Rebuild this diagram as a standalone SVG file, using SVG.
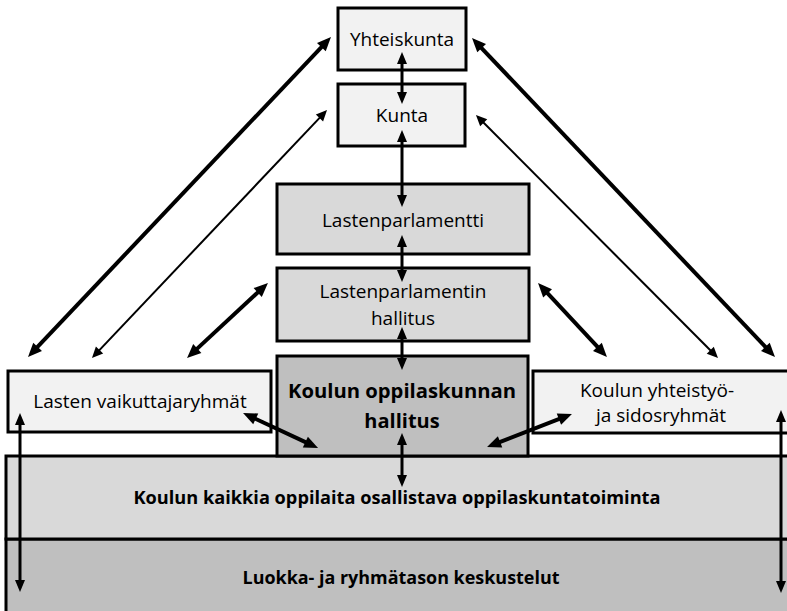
<svg xmlns="http://www.w3.org/2000/svg" width="787" height="611" viewBox="0 0 787 611">
  <style>
    .box { stroke: #000; stroke-width: 3; }
    .l1 { fill: #f2f2f2; }
    .l2 { fill: #d9d9d9; }
    .l3 { fill: #bfbfbf; }
    text { font-family: "Open Sans", "Noto Sans", sans-serif; fill: #000; text-anchor: middle; }
    .t { font-size: 19px; }
    .b { font-size: 20px; font-weight: bold; }
    .bb { font-size: 17.5px; font-weight: bold; }
    .thick { stroke: #000; stroke-width: 4; fill: none; marker-start: url(#head); marker-end: url(#head); }
    .thin { stroke: #000; stroke-width: 2; fill: none; marker-start: url(#headThin); marker-end: url(#headThin); }
    .vert { stroke: #000; stroke-width: 3; fill: none; marker-start: url(#headV); marker-end: url(#headV); }
  </style>
  <defs>
    <marker id="head" markerUnits="userSpaceOnUse" markerWidth="14" markerHeight="12" refX="6" refY="6" orient="auto-start-reverse" overflow="visible">
      <path d="M0,0 L14,6 L0,12 z" fill="#000"/>
    </marker>
    <marker id="headThin" markerUnits="userSpaceOnUse" markerWidth="11" markerHeight="10" refX="5" refY="5" orient="auto-start-reverse" overflow="visible">
      <path d="M0,0 L11,5 L0,10 z" fill="#000"/>
    </marker>
    <marker id="headV" markerUnits="userSpaceOnUse" markerWidth="12" markerHeight="10" refX="5" refY="5" orient="auto-start-reverse" overflow="visible">
      <path d="M0,0 L12,5 L0,10 z" fill="#000"/>
    </marker>
  </defs>

  <!-- base layers -->
  <g id="luokka">
    <rect class="box l3" x="6" y="539" width="790" height="80"/>
    <text class="bb" x="401" y="584" textLength="317" lengthAdjust="spacingAndGlyphs">Luokka- ja ryhmätason keskustelut</text>
  </g>
  <g id="oppilaskuntatoiminta">
    <rect class="box l2" x="6" y="456" width="790" height="83"/>
    <text class="bb" x="397" y="504" textLength="527" lengthAdjust="spacingAndGlyphs">Koulun kaikkia oppilaita osallistava oppilaskuntatoiminta</text>
  </g>

  <!-- central column -->
  <g id="yhteiskunta">
    <rect class="box l1" x="338" y="8" width="128" height="62"/>
    <text class="t" x="402" y="46">Yhteiskunta</text>
  </g>
  <g id="kunta">
    <rect class="box l1" x="338" y="84" width="127" height="62"/>
    <text class="t" x="402" y="122">Kunta</text>
  </g>
  <g id="lastenparlamentti">
    <rect class="box l2" x="277" y="184" width="252" height="70"/>
    <text class="t" x="403" y="227">Lastenparlamentti</text>
  </g>
  <g id="lastenparlamentin-hallitus">
    <rect class="box l2" x="277" y="268" width="252" height="73"/>
    <text class="t" x="403" y="298">Lastenparlamentin</text>
    <text class="t" x="403" y="325">hallitus</text>
  </g>
  <g id="oppilaskunnan-hallitus">
    <rect class="box l3" x="277" y="356" width="251" height="100"/>
    <text class="b" x="402" y="398" textLength="228" lengthAdjust="spacingAndGlyphs">Koulun oppilaskunnan</text>
    <text class="b" x="402" y="428">hallitus</text>
  </g>

  <!-- side groups -->
  <g id="vaikuttajaryhmat">
    <rect class="box l1" x="8" y="371" width="263" height="61"/>
    <text class="t" x="140" y="408">Lasten vaikuttajaryhmät</text>
  </g>
  <g id="yhteistyoryhmat">
    <rect class="box l1" x="533" y="371" width="262" height="62"/>
    <text class="t" x="657" y="397">Koulun yhteistyö-</text>
    <text class="t" x="661" y="422">ja sidosryhmät</text>
  </g>

  <!-- connectors -->
  <g id="connectors">
    <line class="vert" x1="402" y1="59" x2="402" y2="97"/>
    <line class="vert" x1="402" y1="137" x2="402" y2="200"/>
    <line class="vert" x1="402" y1="242" x2="402" y2="275"/>
    <line class="vert" x1="402" y1="334" x2="402" y2="363"/>
    <line class="vert" x1="402" y1="440" x2="402" y2="480"/>
    <line class="vert" x1="20" y1="420" x2="20" y2="585"/>
    <line class="vert" x1="781" y1="417" x2="781" y2="586"/>

    <line class="thick" x1="33.5" y1="351.2" x2="325.5" y2="42.8"/>
    <line class="thin" x1="96.1" y1="353.6" x2="322.9" y2="114.4"/>
    <line class="thick" x1="192.9" y1="352.6" x2="262.1" y2="288.4"/>

    <line class="thick" x1="477.5" y1="43.8" x2="769.5" y2="351.2"/>
    <line class="thin" x1="480.2" y1="119.3" x2="713.8" y2="353.7"/>
    <line class="thick" x1="543.5" y1="288.9" x2="601.5" y2="351.2"/>

    <line class="thick" x1="250.3" y1="416.4" x2="310.8" y2="444.6"/>
    <line class="thick" x1="564.5" y1="416.9" x2="494.5" y2="444.1"/>
  </g>
</svg>
